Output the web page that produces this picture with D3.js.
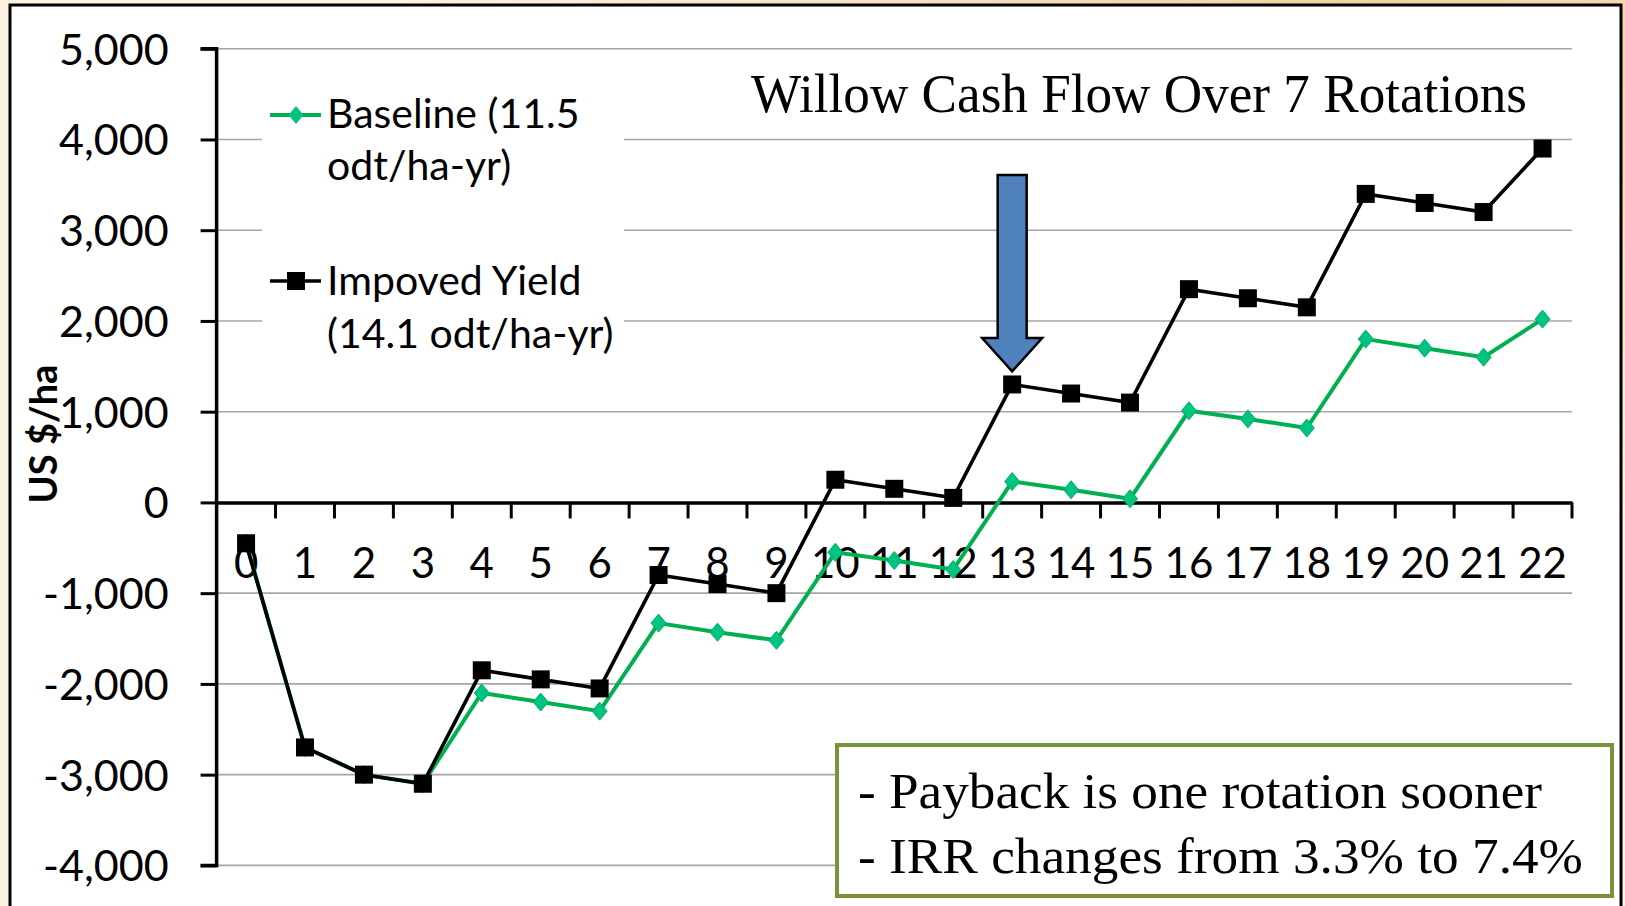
<!DOCTYPE html>
<html>
<head>
<meta charset="utf-8">
<script src="https://cdn.jsdelivr.net/npm/d3@7"></script>
<style>
  body { margin: 0; background: #fbf2e2; }
  svg { display: block; }
</style>
</head>
<body>
<svg id="vis" width="1625" height="906"></svg>
<script>
// rotation years 0..22
var years = d3.range(0, 23).map(String);

var baseline = [-450, -2700, -3000, -3100, -2100, -2200, -2300, -1330, -1430, -1520,
  -550, -640, -740, 230, 140, 40, 1010, 920, 820, 1800, 1700, 1600, 2020];

var improved = [-450, -2700, -3000, -3100, -1850, -1950, -2050, -800, -900, -1000,
  250, 150, 50, 1300, 1200, 1100, 2350, 2250, 2150, 3400, 3300, 3200, 3900];

var yTicks = [-4000, -3000, -2000, -1000, 0, 1000, 2000, 3000, 4000, 5000];

var legendBaseline = ["Baseline (11.5", "odt/ha-yr)"];
var legendImproved = ["Impoved Yield", "(14.1 odt/ha-yr)"];
var titleText = "Willow Cash Flow Over 7 Rotations";
var noteLines = ["- Payback is one rotation sooner", "- IRR changes from 3.3% to 7.4%"];

var svg = d3.select("#vis");

// light slide background with the white chart frame on top
var bg = svg.append("defs").append("radialGradient")
  .attr("id", "glow").attr("cx", "0.85").attr("cy", "0").attr("r", "0.6");
bg.append("stop").attr("offset", "0%").attr("stop-color", "#f3cfa0");
bg.append("stop").attr("offset", "100%").attr("stop-color", "#fbf2e2");
svg.append("rect").attr("width", 1625).attr("height", 906).attr("fill", "url(#glow)");

svg.append("rect")
  .attr("x", 10).attr("y", 5)
  .attr("width", 1611).attr("height", 920)
  .attr("fill", "#ffffff")
  .attr("stroke", "#000000")
  .attr("stroke-width", 3);

var margin = {left: 216.6, right: 1572, top: 48.7, bottom: 865.4};

var xScale = d3.scaleBand()
  .domain(years)
  .range([margin.left, margin.right])
  .padding(0);

var yScale = d3.scaleLinear()
  .domain([-4000, 5000])
  .range([margin.bottom, margin.top]);

var fmt = d3.formatLocale({decimal: ".", thousands: ",", grouping: [3], currency: ["$", ""], minus: "-"}).format(",");

// gridlines
svg.append("g").selectAll("line")
  .data(yTicks.filter(function(d){ return d != 0; }))
  .enter().append("line")
  .attr("x1", margin.left).attr("x2", margin.right)
  .attr("y1", function(d){ return yScale(d); })
  .attr("y2", function(d){ return yScale(d); })
  .attr("stroke", "#a6a6a6")
  .attr("stroke-width", 1.6);

// y axis
var yAxis = d3.axisLeft(yScale)
  .tickValues(yTicks)
  .tickSize(16)
  .tickPadding(32)
  .tickFormat(fmt);
var yGroup = svg.append("g")
  .attr("transform", "translate(" + margin.left + ",0)")
  .call(yAxis);
yGroup.select(".domain").attr("stroke-width", 3.5).attr("d",
  "M" + (-16) + "," + margin.top + "H0V" + margin.bottom + "H-16");
yGroup.selectAll(".tick line").attr("stroke-width", 3);
yGroup.selectAll(".tick text")
  .style("font-family", "Lato, sans-serif")
  .style("font-size", "43px")
  .attr("fill", "#000")
  .attr("dy", "0.36em");

// x axis on the zero line, ticks between categories
var zeroY = yScale(0);
var xGroup = svg.append("g")
  .attr("transform", "translate(0," + zeroY + ")")
  .call(d3.axisBottom(xScale).tickSize(0).tickPadding(46));
xGroup.select(".domain").attr("stroke-width", 3.5);
xGroup.selectAll(".tick text")
  .style("font-family", "Lato, sans-serif")
  .style("font-size", "42px")
  .attr("fill", "#000");
xGroup.append("g").selectAll("line")
  .data(years)
  .enter().append("line")
  .attr("x1", function(d){ return xScale(d) + xScale.bandwidth(); })
  .attr("x2", function(d){ return xScale(d) + xScale.bandwidth(); })
  .attr("y1", 0).attr("y2", 16)
  .attr("stroke", "#000")
  .attr("stroke-width", 3);

// axis title
svg.append("text")
  .attr("transform", "translate(57,434) rotate(-90)")
  .style("font-family", "Lato, sans-serif")
  .style("font-size", "38px")
  .style("font-weight", "bold")
  .style("text-anchor", "middle")
  .text("US $/ha");

// legend box (covers gridlines)
svg.append("rect")
  .attr("x", 262).attr("y", 80)
  .attr("width", 362).attr("height", 280)
  .attr("fill", "#ffffff");

var cx = function(d, i){ return xScale(years[i]) + xScale.bandwidth() / 2; };
var diamond = "M0,-9L7.5,0L0,9L-7.5,0Z";

var line = d3.line()
  .x(function(d, i){ return cx(d, i); })
  .y(function(d){ return yScale(d); });

// baseline series
svg.append("path")
  .attr("d", line(baseline))
  .attr("fill", "none")
  .attr("stroke", "#00b050")
  .attr("stroke-width", 4);
svg.append("g").selectAll("path")
  .data(baseline)
  .enter().append("path")
  .attr("d", diamond)
  .attr("transform", function(d, i){ return "translate(" + cx(d, i) + "," + yScale(d) + ")"; })
  .attr("fill", "#00c47f")
  .attr("stroke", "#00b060")
  .attr("stroke-width", 1);

// improved series
svg.append("path")
  .attr("d", line(improved))
  .attr("fill", "none")
  .attr("stroke", "#000000")
  .attr("stroke-width", 3.6);
svg.append("g").selectAll("rect")
  .data(improved)
  .enter().append("rect")
  .attr("x", function(d, i){ return cx(d, i) - 9; })
  .attr("y", function(d){ return yScale(d) - 9; })
  .attr("width", 18).attr("height", 18)
  .attr("fill", "#000000");

// legend entries
var legend = svg.append("g").style("font-family", "Lato, sans-serif").style("font-size", "41px");
legend.append("line").attr("x1", 270).attr("x2", 321).attr("y1", 115).attr("y2", 115)
  .attr("stroke", "#00b050").attr("stroke-width", 4);
legend.append("path").attr("d", diamond)
  .attr("transform", "translate(296,115)").attr("fill", "#00c47f");
legend.append("line").attr("x1", 270).attr("x2", 321).attr("y1", 281).attr("y2", 281)
  .attr("stroke", "#000").attr("stroke-width", 3.6);
legend.append("rect").attr("x", 287).attr("y", 272).attr("width", 18).attr("height", 18).attr("fill", "#000");
legend.selectAll("text.b")
  .data(legendBaseline)
  .enter().append("text")
  .attr("x", 327).attr("y", function(d, i){ return 128 + i * 52; })
  .text(function(d){ return d; });
legend.selectAll("text.i")
  .data(legendImproved)
  .enter().append("text")
  .attr("x", 327).attr("y", function(d, i){ return 295 + i * 53; })
  .text(function(d){ return d; });

// title
svg.append("text")
  .attr("x", 751).attr("y", 112)
  .attr("textLength", 776)
  .attr("lengthAdjust", "spacingAndGlyphs")
  .style("font-family", "'Liberation Serif', serif")
  .style("font-size", "54px")
  .text(titleText);

// arrow pointing at year 13 payback
var ax = xScale("13") + xScale.bandwidth() / 2;
var tipY = yScale(1300) - 13;
svg.append("path")
  .attr("d", "M" + (ax - 14.5) + ",175" + "H" + (ax + 14.5) + "V338" + "H" + (ax + 30) +
    "L" + ax + "," + tipY + "L" + (ax - 30) + ",338" + "H" + (ax - 14.5) + "Z")
  .attr("fill", "#4f81bd")
  .attr("stroke", "#000")
  .attr("stroke-width", 2.5);

// note box
svg.append("rect")
  .attr("x", 837).attr("y", 745)
  .attr("width", 775).attr("height", 151)
  .attr("fill", "#ffffff")
  .attr("stroke", "#77933c")
  .attr("stroke-width", 4);
svg.append("g").selectAll("text")
  .data(noteLines)
  .enter().append("text")
  .attr("x", 858)
  .attr("y", function(d, i){ return 808 + i * 65; })
  .attr("textLength", function(d, i){ return i == 0 ? 684 : 725; })
  .attr("lengthAdjust", "spacingAndGlyphs")
  .style("font-family", "'Liberation Serif', serif")
  .style("font-size", "50px")
  .text(function(d){ return d; });
</script>
</body>
</html>
